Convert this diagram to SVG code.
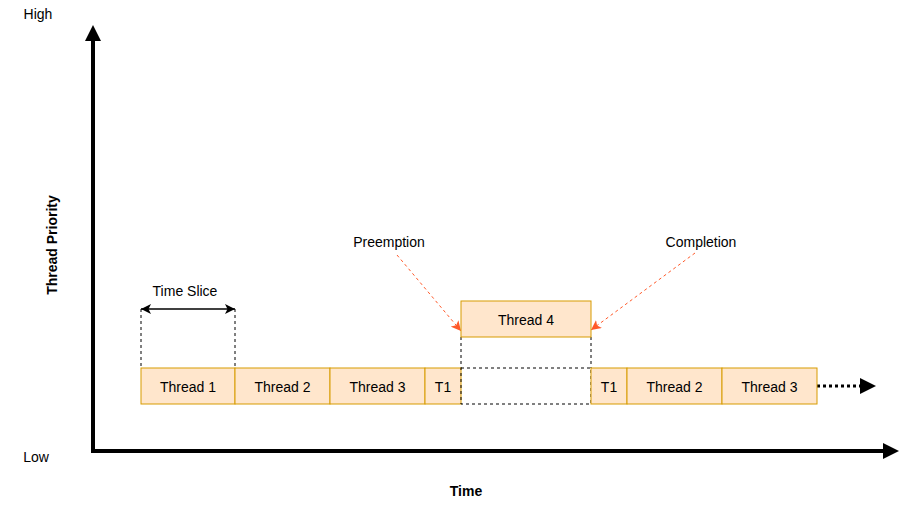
<svg xmlns="http://www.w3.org/2000/svg" width="917" height="511" viewBox="0 0 917 511">
<style>
text{font-family:"Liberation Sans",Arial,sans-serif;font-size:14px;fill:#000;text-anchor:middle;dominant-baseline:central}
.b{font-weight:bold}
.box{fill:#ffe6cc;stroke:#d79b00;stroke-width:1}
.dash{fill:none;stroke:#000;stroke-width:1;stroke-dasharray:3 3}
.red{fill:none;stroke:#ff5a2a;stroke-width:1;stroke-dasharray:3 3}
</style>
<defs>
<marker id="ax" markerWidth="16" markerHeight="16" viewBox="0 0 16 16" refX="16" refY="8" orient="auto" markerUnits="userSpaceOnUse"><path d="M0,0 L16,8 L0,16 Z" fill="#000"/></marker>
<marker id="cl" markerWidth="10" markerHeight="10" viewBox="0 0 10 10" refX="10" refY="5" orient="auto-start-reverse" markerUnits="userSpaceOnUse"><path d="M0,0 L10,5 L0,10 L2.5,5 Z" fill="#000"/></marker>
<marker id="cr" markerWidth="10" markerHeight="10" viewBox="0 0 10 10" refX="10" refY="5" orient="auto" markerUnits="userSpaceOnUse"><path d="M0,0 L10,5 L0,10 L2.5,5 Z" fill="#ff5a2a"/></marker>
</defs>
<g id="axes">
<path d="M93,40 L93,451 L883,451" fill="none" stroke="#000" stroke-width="4"/>
<path d="M93,25 L101,41 L85,41 Z" fill="#000"/>
<path d="M899,451 L883,443 L883,459 Z" fill="#000"/>
</g>
<g id="labels">
<text x="38" y="14">High</text>
<text x="36" y="457">Low</text>
<text class="b" x="466" y="491">Time</text>
<text class="b" x="52" y="245" transform="rotate(-90 52 245)">Thread Priority</text>
</g>
<g id="connectors">
<line class="dash" x1="141" y1="309" x2="141" y2="368"/>
<line class="dash" x1="235" y1="309" x2="235" y2="368"/>
<line x1="141" y1="309" x2="235" y2="309" stroke="#000" stroke-width="1.5" marker-start="url(#cl)" marker-end="url(#cl)"/>
<line class="dash" x1="461" y1="337" x2="461" y2="368"/>
<line class="dash" x1="591" y1="337" x2="591" y2="368"/>
<line class="red" x1="397" y1="255" x2="461" y2="331" marker-end="url(#cr)"/>
<line class="red" x1="695" y1="253" x2="591" y2="330" marker-end="url(#cr)"/>
<line x1="817" y1="386" x2="862" y2="386" stroke="#000" stroke-width="3" stroke-dasharray="3 3"/>
<path d="M876,386 L860,378 L860,394 Z" fill="#000"/>
</g>
<g id="time-slice"><text x="185" y="291">Time Slice</text></g>
<g id="preemption"><text x="389" y="242">Preemption</text></g>
<g id="completion"><text x="701" y="242">Completion</text></g>
<g id="thread1a"><rect class="box" x="141" y="368" width="94" height="36"/><text x="188" y="387">Thread 1</text></g>
<g id="thread2a"><rect class="box" x="235" y="368" width="95" height="36"/><text x="282.5" y="387">Thread 2</text></g>
<g id="thread3a"><rect class="box" x="330" y="368" width="95" height="36"/><text x="377.5" y="387">Thread 3</text></g>
<g id="t1a"><rect class="box" x="425" y="368" width="36" height="36"/><text x="443" y="387">T1</text></g>
<g id="gap"><rect class="dash" x="461" y="368" width="130" height="36"/></g>
<g id="thread4"><rect class="box" x="461" y="301" width="130" height="36"/><text x="526" y="320">Thread 4</text></g>
<g id="t1b"><rect class="box" x="591" y="368" width="36" height="36"/><text x="609" y="387">T1</text></g>
<g id="thread2b"><rect class="box" x="627" y="368" width="95" height="36"/><text x="674.5" y="387">Thread 2</text></g>
<g id="thread3b"><rect class="box" x="722" y="368" width="95" height="36"/><text x="769.5" y="387">Thread 3</text></g>
</svg>
